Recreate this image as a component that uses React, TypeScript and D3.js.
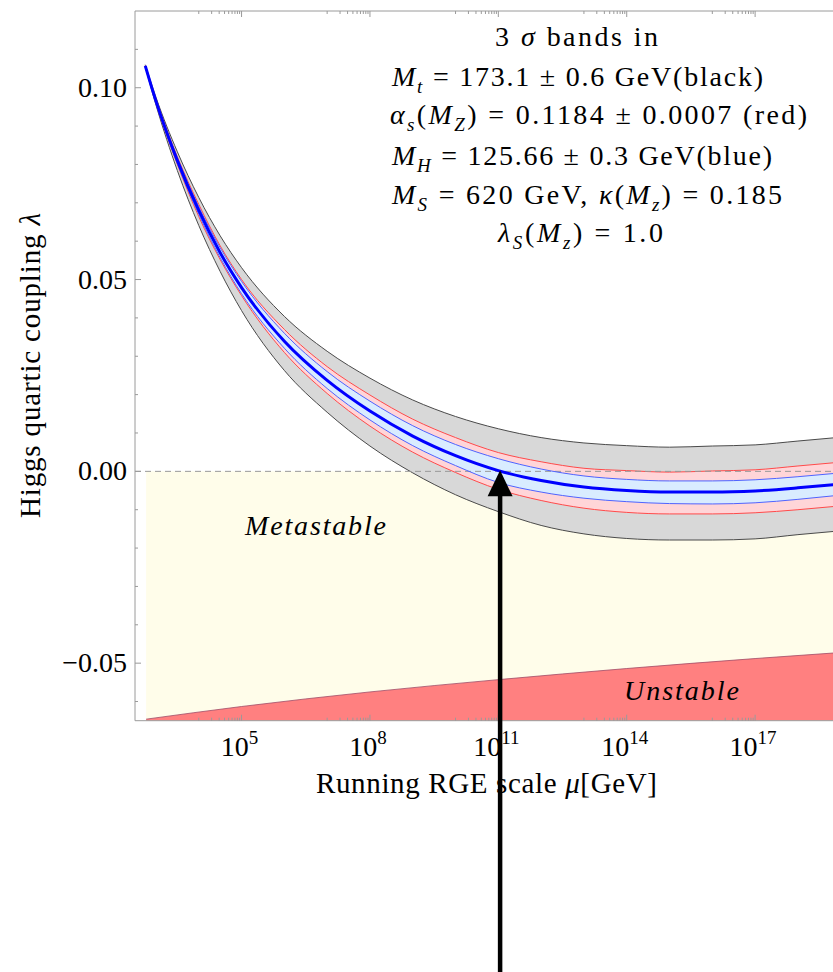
import React from "react";
import * as d3 from "d3";

// running scale, log10(mu / GeV), and lambda values
const logMu = [2.75, 3.0, 3.5, 4.0, 4.5, 5.0, 6.0, 7.0, 8.0, 9.0, 10.0, 11.0, 12.0, 13.0, 14.0, 15.0, 16.0, 17.0, 18.0, 18.9];
const lambdaCentral = [0.1057, 0.0965, 0.081, 0.068, 0.057, 0.0479, 0.0339, 0.0237, 0.0157, 0.0092, 0.0041, 0.0002, -0.0024, -0.0041, -0.005, -0.0054, -0.0054, -0.0051, -0.0043, -0.0034];
// half widths of the 3 sigma bands above / below the central curve
// M_t (black, grey fill)
const mtUp = [0.0003, 0.001, 0.0023, 0.0034, 0.0044, 0.0052, 0.0065, 0.0076, 0.0086, 0.0094, 0.0102, 0.0109, 0.0112, 0.0115, 0.0117, 0.0117, 0.012, 0.012, 0.0122, 0.0122];
const mtDown = [0.0003, 0.001, 0.0026, 0.0039, 0.0049, 0.006, 0.0076, 0.0083, 0.0091, 0.0096, 0.0102, 0.0107, 0.0117, 0.0122, 0.0125, 0.0125, 0.0125, 0.0125, 0.0122, 0.0122];
// alpha_s (red)
const asUp = [0.0001, 0.0005, 0.001, 0.0016, 0.0018, 0.0021, 0.0031, 0.0036, 0.0042, 0.0044, 0.0047, 0.0047, 0.0049, 0.0049, 0.0052, 0.0052, 0.0055, 0.0055, 0.0057, 0.0057];
const asDown = [0.0001, 0.0005, 0.001, 0.0016, 0.0018, 0.0021, 0.0029, 0.0034, 0.0039, 0.0042, 0.0044, 0.0049, 0.0052, 0.0055, 0.0057, 0.0057, 0.0057, 0.0057, 0.0057, 0.0057];
// M_H (blue)
const mhUp = [0.0001, 0.0003, 0.0007, 0.001, 0.0013, 0.0016, 0.0021, 0.0023, 0.0026, 0.0027, 0.0029, 0.0031, 0.003, 0.0029, 0.0029, 0.0029, 0.0029, 0.0029, 0.0029, 0.0029];
const mhDown = [0.0001, 0.0003, 0.0007, 0.001, 0.0013, 0.0016, 0.0018, 0.0021, 0.0023, 0.0025, 0.0026, 0.0031, 0.003, 0.0029, 0.0029, 0.003, 0.0031, 0.0031, 0.003, 0.0029];

// stability boundary
const unstableLogMu = [2.77, 5.0, 8.0, 11.0, 14.0, 17.0, 18.9];
const unstableEdge = [-0.0646, -0.0613, -0.0575, -0.0543, -0.0514, -0.0488, -0.0473];
const metastableStartLogMu = 2.77;

// where lambda crosses zero
const arrowMu = 1.1e11;

// ticks
const xDomainExp = [2.51, 18.82];
const yDomain = [-0.065, 0.12];
const xMajorExp = [5, 8, 11, 14, 17];
const yMajor = [-0.05, 0, 0.05, 0.1];
const yLabels = ["\u22120.05", "0.00", "0.05", "0.10"];
const yMinor = [-0.06, -0.04, -0.03, -0.02, -0.01, 0.01, 0.02, 0.03, 0.04, 0.06, 0.07, 0.08, 0.09, 0.11];

type Seg = { t: string; i?: boolean; sub?: boolean };

const infoLines: { segs: Seg[]; x: number; y: number; w: number }[] = [
  { segs: [{ t: "3 " }, { t: "\u03c3", i: true }, { t: " bands in" }], x: 495, y: 46, w: 163 },
  {
    segs: [{ t: "M", i: true }, { t: "t", i: true, sub: true }, { t: " = 173.1 \u00b1 0.6 GeV(black)" }],
    x: 392, y: 86, w: 371,
  },
  {
    segs: [
      { t: "\u03b1", i: true }, { t: "s", i: true, sub: true }, { t: "(" },
      { t: "M", i: true }, { t: "Z", i: true, sub: true }, { t: ") = 0.1184 \u00b1 0.0007 (red)" },
    ],
    x: 390, y: 124, w: 417,
  },
  {
    segs: [{ t: "M", i: true }, { t: "H", i: true, sub: true }, { t: " = 125.66 \u00b1 0.3 GeV(blue)" }],
    x: 392, y: 165, w: 380,
  },
  {
    segs: [
      { t: "M", i: true }, { t: "S", i: true, sub: true }, { t: " = 620 GeV,  " },
      { t: "\u03ba", i: true }, { t: "(" }, { t: "M", i: true }, { t: "z", i: true, sub: true },
      { t: ") = 0.185" },
    ],
    x: 392, y: 204, w: 390,
  },
  {
    segs: [
      { t: "\u03bb", i: true }, { t: "S", i: true, sub: true }, { t: "(" },
      { t: "M", i: true }, { t: "z", i: true, sub: true }, { t: ") = 1.0" },
    ],
    x: 498, y: 242, w: 165,
  },
];

function RichText({ segs, x, y, w }: { segs: Seg[]; x: number; y: number; w: number }) {
  let wasSub = false;
  return (
    <text x={x} y={y} textLength={w} lengthAdjust="spacing" fontSize={28}>
      {segs.map((s, k) => {
        let dy = 0;
        if (s.sub && !wasSub) dy = 7;
        if (!s.sub && wasSub) dy = -7;
        wasSub = !!s.sub;
        return (
          <tspan key={k} dy={dy} fontStyle={s.i ? "italic" : "normal"} fontSize={s.sub ? 19 : 28}>
            {s.t}
          </tspan>
        );
      })}
    </text>
  );
}

export default function App() {
  const W = 833;
  const H = 972;
  const left = 135;
  const right = 833;
  const top = 11;
  const bottom = 720.7;

  const x = d3.scaleLog().domain([10 ** xDomainExp[0], 10 ** xDomainExp[1]]).range([left, right]);
  const y = d3.scaleLinear().domain(yDomain).range([bottom, top]);

  const idx = logMu.map((m, i) => i);
  const up = (dev: number[]) => idx.map((i) => lambdaCentral[i] + dev[i]);
  const down = (dev: number[]) => idx.map((i) => lambdaCentral[i] - dev[i]);

  const band = (hi: number[], lo: number[]) =>
    d3.area<number>()
      .x((i) => x(10 ** logMu[i]))
      .y0((i) => y(lo[i]))
      .y1((i) => y(hi[i]))
      .curve(d3.curveMonotoneX)(idx) || "";
  const line = (vals: number[]) =>
    d3.line<number>()
      .x((i) => x(10 ** logMu[i]))
      .y((i) => y(vals[i]))
      .curve(d3.curveMonotoneX)(idx) || "";

  const uIdx = unstableLogMu.map((m, i) => i);
  const unstableArea =
    d3.area<number>()
      .x((i) => x(10 ** unstableLogMu[i]))
      .y0(y(yDomain[0]))
      .y1((i) => y(unstableEdge[i]))
      .curve(d3.curveMonotoneX)(uIdx) || "";
  const unstableLine =
    d3.line<number>()
      .x((i) => x(10 ** unstableLogMu[i]))
      .y((i) => y(unstableEdge[i]))
      .curve(d3.curveMonotoneX)(uIdx) || "";

  // log ticks: 10^(n-1), k*10^(n-1) minors and 10^n majors
  const xMinor: number[] = [];
  xMajorExp.forEach((n) => {
    for (let k = 1; k <= 9; k++) xMinor.push(k * 10 ** (n - 1));
  });

  const ax = x(arrowMu);
  const tipY = y(0) - 1;

  const font = "'Liberation Serif', 'Times New Roman', serif";
  const axisColor = "#9a9a9a";

  const mtHi = up(mtUp), mtLo = down(mtDown);
  const asHi = up(asUp), asLo = down(asDown);
  const mhHi = up(mhUp), mhLo = down(mhDown);

  return (
    <svg
      width={W}
      height={H}
      style={{ position: "absolute", left: 0, top: 0, background: "#fff" }}
      fontFamily={font}
    >
      <defs>
        <clipPath id="plot">
          <rect x={left} y={top} width={right - left} height={bottom - top} />
        </clipPath>
      </defs>

      <g clipPath="url(#plot)">
        {/* metastable region */}
        <rect
          x={x(10 ** metastableStartLogMu)}
          y={y(0)}
          width={right - x(10 ** metastableStartLogMu)}
          height={bottom - y(0)}
          fill="#fffdea"
        />
        {/* unstable region */}
        <path d={unstableArea} fill="#ff8080" />
        <path d={unstableLine} fill="none" stroke="#a04a66" strokeWidth={0.8} />

        {/* bands */}
        <path d={band(mtHi, mtLo)} fill="#d8d8d8" />
        <path d={line(mtHi)} fill="none" stroke="#4a4a4a" strokeWidth={1} />
        <path d={line(mtLo)} fill="none" stroke="#4a4a4a" strokeWidth={1} />
        <path d={band(asHi, asLo)} fill="#ffd5d8" />
        <path d={line(asHi)} fill="none" stroke="#ff4a4a" strokeWidth={1} />
        <path d={line(asLo)} fill="none" stroke="#ff4a4a" strokeWidth={1} />
        <path d={band(mhHi, mhLo)} fill="#d9ecff" />

        {/* lambda = 0 */}
        <line x1={left} x2={right} y1={y(0)} y2={y(0)} stroke="#999" strokeWidth={1} strokeDasharray="6,4" />

        <path d={line(mhHi)} fill="none" stroke="#4f63ff" strokeWidth={1} />
        <path d={line(mhLo)} fill="none" stroke="#4f63ff" strokeWidth={1} />
        <path d={line(lambdaCentral)} fill="none" stroke="#0000ff" strokeWidth={3} />

        <text x={245} y={535} fontSize={28} fontStyle="italic" textLength={141} lengthAdjust="spacing">
          Metastable
        </text>
        <text x={624} y={700} fontSize={28} fontStyle="italic" textLength={115} lengthAdjust="spacing">
          Unstable
        </text>
      </g>

      {/* frame */}
      <line x1={left} x2={left} y1={top} y2={bottom} stroke={axisColor} />
      <line x1={left} x2={right} y1={top} y2={top} stroke={axisColor} />
      <line x1={left} x2={right} y1={bottom} y2={bottom} stroke={axisColor} />

      {/* y ticks */}
      {yMinor.map((v) => (
        <line key={"ym" + v} x1={left} x2={left + 3} y1={y(v)} y2={y(v)} stroke={axisColor} />
      ))}
      {yMajor.map((v, i) => (
        <g key={"yM" + v}>
          <line x1={left} x2={left + 6} y1={y(v)} y2={y(v)} stroke={axisColor} />
          <text x={127} y={y(v) + 9} fontSize={28} textAnchor="end">
            {yLabels[i]}
          </text>
        </g>
      ))}

      {/* x ticks */}
      {xMinor
        .filter((v) => v > x.domain()[0] && v < x.domain()[1])
        .map((v, i) => (
          <g key={"xm" + i}>
            <line x1={x(v)} x2={x(v)} y1={bottom} y2={bottom - 3} stroke={axisColor} />
            <line x1={x(v)} x2={x(v)} y1={top} y2={top + 3} stroke={axisColor} />
          </g>
        ))}
      {xMajorExp.map((n) => (
        <g key={"xM" + n}>
          <line x1={x(10 ** n)} x2={x(10 ** n)} y1={bottom} y2={bottom - 6} stroke={axisColor} />
          <line x1={x(10 ** n)} x2={x(10 ** n)} y1={top} y2={top + 6} stroke={axisColor} />
          <text x={x(10 ** n) - 2} y={756} fontSize={28} textAnchor="middle">
            10
            <tspan dy={-12} fontSize={19}>
              {n}
            </tspan>
          </text>
        </g>
      ))}

      {/* axis titles */}
      <text x={316} y={793} fontSize={29} textLength={341} lengthAdjust="spacing">
        Running RGE scale <tspan fontStyle="italic">{"\u03bc"}</tspan>[GeV]
      </text>
      <text
        transform="translate(40,518) rotate(-90)"
        fontSize={29}
        textLength={305}
        lengthAdjust="spacing"
      >
        Higgs quartic coupling <tspan fontStyle="italic">{"\u03bb"}</tspan>
      </text>

      {/* parameter block */}
      {infoLines.map((l, k) => (
        <RichText key={k} {...l} />
      ))}

      {/* arrow to the zero crossing */}
      <line x1={ax} x2={ax} y1={H} y2={tipY + 22} stroke="#000" strokeWidth={4.5} />
      <path d={`M${ax},${tipY} L${ax - 12.5},${tipY + 26} L${ax + 12.5},${tipY + 26} Z`} fill="#000" />
    </svg>
  );
}
